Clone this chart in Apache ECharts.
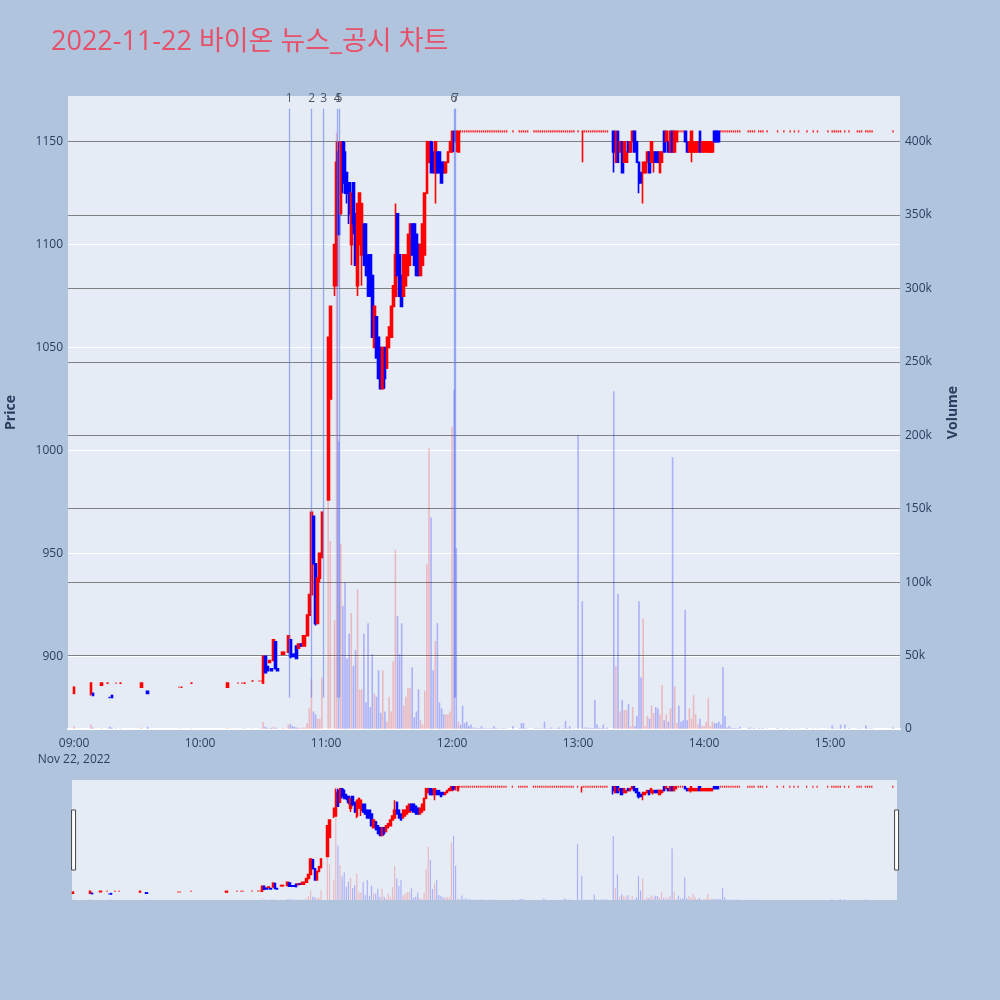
<!DOCTYPE html>
<html>
<head>
<meta charset="utf-8">
<script src="https://cdn.jsdelivr.net/npm/echarts@6/dist/echarts.min.js"></script>
<style>
  html, body { margin: 0; padding: 0; background: #B0C4DE; }
  #chart { width: 1000px; height: 1000px; }
</style>
</head>
<body>
<div id="chart"></div>
<script>
// ---- data (prices in won, volume in shares) ----
const chartTitle = '2022-11-22 바이온 뉴스_공시 차트'
const dateLabel = 'Nov 22, 2022'

const times = [
  '09:00','09:08','09:09','09:13','09:16','09:17','09:18','09:20','09:22','09:32','09:35','09:50','09:51','09:56','10:13','10:18','10:20','10:21','10:25','10:28','10:29',
  '10:30','10:31','10:32','10:33','10:34','10:35','10:36','10:37','10:39','10:40','10:42','10:43','10:44','10:45','10:46','10:47','10:48','10:49','10:50','10:51','10:52','10:53','10:54','10:55','10:56','10:57','10:58',
  '11:01','11:02','11:04','11:05','11:06','11:07','11:08','11:09','11:10','11:11',
  '11:12','11:13','11:14','11:15','11:16','11:17','11:18','11:19','11:20','11:21',
  '11:22','11:23','11:24','11:25','11:26','11:27','11:28','11:29','11:30','11:31',
  '11:32','11:33','11:34','11:35','11:36','11:37','11:38','11:39','11:40','11:41',
  '11:42','11:43','11:44','11:45','11:46','11:47','11:48','11:49','11:50','11:51',
  '11:52','11:53','11:54','11:55','11:56','11:57','11:58','11:59',
  '12:00','12:01','12:02','12:03',
  '13:02',
  '13:17','13:18','13:19','13:20','13:21','13:22','13:23','13:24','13:25','13:26',
  '13:27','13:28','13:29','13:30','13:31','13:32','13:33','13:34','13:35','13:36',
  '13:37','13:38','13:39','13:40','13:41','13:42','13:43','13:44','13:45','13:46','13:47',
  '13:51','13:52','13:53','13:54','13:55','13:56','13:57','13:58','13:59','14:00','14:01','14:02','14:03','14:04','14:05','14:06','14:07'
]
const open = [
  882,882,882,886,887,880,881,887,887,885,883,885,885,887,885,887,887,887,888,888,888,
  887,900,895,897,894,898,907,894,901,901,902,908,901,901,905,904,906,905,905,910,920,930,968,945,916,938,948,
  976,1025,1080,1080,1145,1115,1150,1145,1135,1130,
  1100,1130,1115,1080,1100,1095,1110,1110,1095,1095,
  1085,1050,1065,1055,1050,1030,1050,1040,1050,1055,
  1070,1075,1115,1095,1085,1075,1080,1085,1090,1110,
  1110,1105,1100,1085,1090,1095,1125,1140,1150,1145,
  1135,1145,1145,1140,1140,1135,1140,1145,
  1145,1155,1155,1145,
  1155,
  1155,1140,1155,1145,1150,1140,1140,1150,1145,1150,
  1155,1150,1140,1135,1135,1135,1140,1145,1140,1140,
  1145,1145,1135,1140,1155,1150,1150,1145,1155,1145,1150,
  1155,1150,1145,1145,1145,1145,1145,1155,1145,1145,1145,1145,1145,1145,1155,1155,1155
]
const close = [
  885,887,881,887,887,880,880,887,887,887,882,885,885,887,887,887,887,887,888,888,888,
  900,892,893,898,893,908,894,893,902,902,910,900,900,900,899,906,905,910,910,920,930,970,945,916,938,950,970,
  1055,1070,1100,1140,1105,1150,1130,1125,1125,1115,
  1125,1110,1090,1120,1125,1120,1090,1085,1075,1075,
  1055,1070,1045,1035,1030,1050,1035,1055,1060,1070,
  1080,1095,1085,1075,1070,1095,1095,1105,1110,1095,
  1090,1085,1085,1100,1110,1125,1150,1150,1135,1135,
  1150,1135,1135,1130,1135,1140,1145,1150,
  1155,1150,1155,1155,
  1155,
  1145,1155,1140,1150,1135,1150,1145,1145,1150,1155,
  1145,1140,1130,1130,1140,1140,1145,1135,1150,1145,
  1140,1140,1145,1145,1145,1155,1145,1155,1145,1155,1155,
  1150,1145,1150,1155,1150,1150,1150,1145,1150,1150,1150,1150,1150,1150,1150,1150,1150
]
const low = [
  882,881,881,886,887,880,880,887,887,885,882,885,885,887,885,887,887,887,888,888,888,
  887,892,893,897,893,898,894,893,901,901,902,899,900,900,899,904,905,905,905,910,920,930,945,915,916,936,948,
  976,1025,1075,1080,1105,1115,1125,1125,1120,1110,
  1090,1105,1090,1075,1100,1080,1090,1085,1075,1075,
  1055,1050,1045,1035,1030,1030,1030,1040,1050,1055,
  1070,1075,1085,1075,1070,1075,1080,1085,1090,1095,
  1090,1085,1085,1085,1090,1095,1125,1140,1135,1135,
  1120,1135,1135,1130,1135,1135,1140,1145,
  1145,1145,1145,1145,
  1140,
  1135,1140,1140,1145,1135,1140,1140,1145,1145,1150,
  1145,1140,1125,1130,1120,1135,1140,1135,1140,1135,
  1140,1140,1135,1140,1145,1150,1145,1145,1145,1145,1150,
  1150,1145,1145,1140,1145,1145,1145,1145,1145,1145,1145,1145,1145,1145,1150,1150,1150
]
const high = [
  885,887,882,887,887,880,881,887,887,887,883,885,885,887,887,887,887,887,888,888,888,
  900,900,895,898,894,908,907,894,902,902,910,908,901,901,905,906,906,910,910,920,930,970,968,945,938,950,970,
  1055,1070,1100,1150,1150,1150,1150,1150,1135,1130,
  1125,1130,1115,1120,1125,1120,1110,1110,1095,1095,
  1085,1070,1065,1055,1050,1050,1050,1055,1060,1070,
  1080,1120,1115,1095,1085,1095,1095,1105,1110,1110,
  1110,1105,1100,1100,1110,1125,1150,1150,1150,1150,
  1150,1145,1145,1140,1140,1140,1145,1150,
  1155,1155,1155,1155,
  1155,
  1155,1155,1155,1150,1150,1150,1145,1150,1150,1155,
  1155,1150,1140,1135,1140,1140,1145,1145,1150,1145,
  1145,1145,1145,1145,1155,1155,1150,1155,1155,1155,1155,
  1155,1150,1150,1155,1150,1150,1150,1155,1150,1150,1150,1150,1150,1150,1155,1155,1155
]
const volume = [
  2000,3000,1000,500,300,1500,1000,300,300,1000,1500,200,200,300,800,200,200,300,300,200,300,
  5000,1500,800,500,800,1500,1000,300,500,500,3000,3500,2000,1500,1000,1000,500,1000,1000,4000,14000,34000,12000,10000,7000,7000,35000,
  155000,128000,74000,406000,196000,126000,84000,100000,48000,65000,
  79000,43000,54000,95000,27000,27000,65000,18000,72000,15000,
  51000,24000,22000,40000,11000,40000,12000,5000,22000,12000,
  46000,122000,77000,51000,72000,16000,22000,28000,28000,42000,
  8000,12000,27000,6000,3000,26000,112000,191000,144000,40000,
  60000,72000,18000,14000,10000,10000,10000,12000,
  206000,231000,123000,5000,
  87000,
  230000,43000,92000,12000,20000,13000,13000,17000,2000,15000,
  2000,9000,87000,35000,75000,2000,9000,7000,16000,11000,
  15000,14000,10000,30000,6000,10000,5000,14000,185000,29000,4000,
  81000,6000,14000,7000,23000,10000,3000,7000,2000,2000,5000,21000,2000,5000,4000,4000,5000
]

// minutes that traded only at the upper price, no movement
const flatPrice = 1155
const flatTimes = [
  '12:04','12:05','12:06','12:07','12:08','12:09','12:10','12:11','12:12','12:13',
  '12:14','12:15','12:16','12:17','12:18','12:19','12:20','12:21','12:22','12:23',
  '12:24','12:25','12:26','12:29','12:32','12:33','12:34','12:35','12:36','12:39',
  '12:40','12:41','12:42','12:43','12:44','12:45','12:46','12:47','12:48','12:49',
  '12:50','12:51','12:52','12:53','12:54','12:55','12:56','12:57','12:58','13:00',
  '13:03','13:04','13:05','13:06','13:07','13:08','13:09','13:10','13:11','13:12',
  '13:13','13:14','13:48','13:49','13:50','14:08','14:09','14:10','14:11','14:12',
  '14:13','14:14','14:15','14:16','14:17','14:21','14:22','14:23','14:24','14:26',
  '14:27','14:28','14:30','14:35','14:38','14:41','14:43','14:45','14:49','14:52',
  '14:54','14:59','15:01','15:02','15:03','15:04','15:05','15:07','15:09','15:13',
  '15:14','15:15','15:17','15:18','15:19','15:20','15:30'
]
const flatVolume = [
  3000,16000,4000,5000,2000,3000,1000,800,500,600,
  2000,500,500,400,500,500,2000,500,400,300,
  500,400,300,2000,500,4000,4000,500,300,400,
  500,300,400,500,5000,500,300,1000,300,400,
  500,1000,300,500,5500,500,2000,300,400,200000,
  1000,1000,800,800,600,20000,3000,800,600,3000,
  500,1000,16000,5000,6000,3000,42000,9000,1000,2000,
  800,600,500,500,1500,500,1000,300,500,800,
  300,500,300,700,300,500,300,300,500,300,
  300,300,2500,300,300,300,3000,3000,500,300,
  300,300,2500,300,300,300,1000
]

// news / disclosure markers
const newsLabels = ['1', '2', '3', '4', '5', '6', '7']
const newsTimes = ['10:42:25', '10:53:10', '10:58:50', '11:05:15', '11:06:10', '12:00:55', '12:01:35']
const newsLineRange = [880, 1166]

const timeTicks = ['09:00', '10:00', '11:00', '12:00', '13:00', '14:00', '15:00']
const priceTicks = [900, 950, 1000, 1050, 1100, 1150]
const volumeTicks = [0, 50000, 100000, 150000, 200000, 250000, 300000, 350000, 400000]

// ---- helpers ----
const FONT = "'Open Sans', 'Noto Sans CJK KR', sans-serif"
const AXIS_COLOR = '#2a3f5f'
const UP = '#ff0000'
const DOWN = '#0000ff'

function toMin(t) {
  const p = t.split(':').map(Number)
  return (p[0] - 9) * 60 + p[1] + (p[2] || 0) / 60
}

const candleData = times.map((t, i) => [toMin(t), open[i], close[i], low[i], high[i]])
// flat minutes are a single tick each, drawn as tiny red marks
const flatData = flatTimes.map(t => [toMin(t), flatPrice])

// volume bars: red when the minute closed above its open, blue otherwise
const volRows = times.map((t, i) => ({ m: toMin(t), v: volume[i], up: close[i] > open[i] }))
  .concat(flatTimes.map((t, i) => ({ m: toMin(t), v: flatVolume[i], up: false })))
const volumeData = volRows.map(r => ({
  value: [r.m, r.v],
  itemStyle: { color: r.up ? 'rgba(255,0,0,0.22)' : 'rgba(0,0,255,0.25)' }
}))

const tickMinutes = timeTicks.map(toMin)

const newsLines = newsTimes.map((t, i) => [
  { name: newsLabels[i], coord: [toMin(t), newsLineRange[0]] },
  { name: newsLabels[i], coord: [toMin(t), newsLineRange[1]] }
])

const candleStyle = { color: UP, color0: DOWN, borderColor: UP, borderColor0: DOWN, borderWidth: 1.6 }
const miniStyle = { color: UP, color0: DOWN, borderColor: UP, borderColor0: DOWN, borderWidth: 1.5 }

const chart = echarts.init(document.getElementById('chart'))

const option = {
  backgroundColor: '#B0C4DE',
  animation: false,
  textStyle: { fontFamily: FONT },
  title: {
    text: chartTitle,
    left: 46,
    top: 24,
    textStyle: { color: '#E8506A', fontSize: 27, fontWeight: 'normal', fontFamily: FONT }
  },
  grid: [
    { left: 68, top: 96, width: 832, height: 633, show: true, backgroundColor: '#E5ECF6', borderWidth: 0, outerBoundsMode: 'none' },
    { left: 72, top: 780, width: 825, height: 120, show: true, backgroundColor: '#E5ECF6', borderWidth: 0, outerBoundsMode: 'none' }
  ],
  xAxis: [
    {
      type: 'value', gridIndex: 0, min: -2.9, max: 393.3,
      axisLine: { onZero: false, lineStyle: { color: '#ffffff', width: 2 } },
      axisTick: { show: false, customValues: tickMinutes },
      splitLine: { show: false },
      axisLabel: {
        customValues: tickMinutes,
        color: AXIS_COLOR, fontSize: 12, margin: 7, lineHeight: 16,
        formatter: v => {
          const i = tickMinutes.indexOf(Math.round(v))
          if (i < 0) return ''
          return i === 0 ? timeTicks[0] + '\n' + dateLabel : timeTicks[i]
        }
      }
    },
    { type: 'value', gridIndex: 1, min: -0.5, max: 392, show: false }
  ],
  yAxis: [
    {
      type: 'value', gridIndex: 0, min: 864.7, max: 1172.2,
      name: 'Price', nameLocation: 'middle', nameGap: 50, nameRotate: 90,
      nameTextStyle: { color: AXIS_COLOR, fontSize: 14, fontWeight: 'bold' },
      axisLine: { show: false },
      axisTick: { show: false, customValues: priceTicks },
      axisLabel: { customValues: priceTicks, color: AXIS_COLOR, fontSize: 12, margin: 5, formatter: v => String(v) },
      splitLine: { lineStyle: { color: '#ffffff', width: 1 } }
    },
    {
      type: 'value', gridIndex: 0, position: 'right', min: 0, max: 431000,
      name: 'Volume', nameLocation: 'middle', nameGap: 46, nameRotate: 90,
      nameTextStyle: { color: AXIS_COLOR, fontSize: 14, fontWeight: 'bold' },
      axisLine: { show: false },
      axisTick: { show: false, customValues: volumeTicks.slice(1) },
      axisLabel: {
        customValues: volumeTicks, color: AXIS_COLOR, fontSize: 12, margin: 5,
        formatter: v => v === 0 ? '0' : (v / 1000) + 'k'
      },
      splitLine: { lineStyle: { color: '#808080', width: 1 } }
    },
    { type: 'value', gridIndex: 1, min: 864.7, max: 1172.2, show: false },
    { type: 'value', gridIndex: 1, min: 0, max: 431000, show: false }
  ],
  dataZoom: [{
    type: 'slider',
    xAxisIndex: 1,
    filterMode: 'none',
    left: 72, width: 825, top: 780, height: 120,
    backgroundColor: 'rgba(0,0,0,0)',
    borderColor: 'rgba(0,0,0,0)',
    fillerColor: 'rgba(0,0,0,0)',
    showDetail: false,
    showDataShadow: false,
    brushSelect: false,
    moveHandleSize: 0,
    handleIcon: 'path://M0,0H2V30H0Z',
    handleSize: '50%',
    handleStyle: { color: '#ffffff', borderColor: '#444444', borderWidth: 1 }
  }],
  series: [
    {
      name: 'Volume', type: 'bar', xAxisIndex: 0, yAxisIndex: 1,
      barWidth: 1.6, data: volumeData, silent: true
    },
    {
      name: 'Price', type: 'candlestick', xAxisIndex: 0, yAxisIndex: 0,
      barWidth: 2.2, itemStyle: candleStyle, data: candleData,
      markLine: {
        silent: true,
        symbol: ['none', 'none'],
        lineStyle: { type: 'solid', color: 'rgba(99,125,240,0.6)', width: 1.3 },
        label: { show: true, position: 'end', distance: 4, formatter: '{b}', color: '#4a5568', fontSize: 12 },
        data: newsLines
      }
    },
    {
      name: 'Flat', type: 'scatter', xAxisIndex: 0, yAxisIndex: 0,
      symbol: 'rect', symbolSize: [1.4, 2.2], itemStyle: { color: UP, opacity: 0.85 },
      data: flatData, silent: true
    },
    {
      type: 'bar', xAxisIndex: 1, yAxisIndex: 3,
      barWidth: 1.2, data: volumeData, silent: true
    },
    {
      type: 'candlestick', xAxisIndex: 1, yAxisIndex: 2,
      barWidth: 1.8, itemStyle: miniStyle, data: candleData, silent: true
    },
    {
      type: 'scatter', xAxisIndex: 1, yAxisIndex: 2,
      symbol: 'rect', symbolSize: [1.3, 2], itemStyle: { color: UP, opacity: 0.85 },
      data: flatData, silent: true
    }
  ]
}

chart.setOption(option)
</script>
</body>
</html>
